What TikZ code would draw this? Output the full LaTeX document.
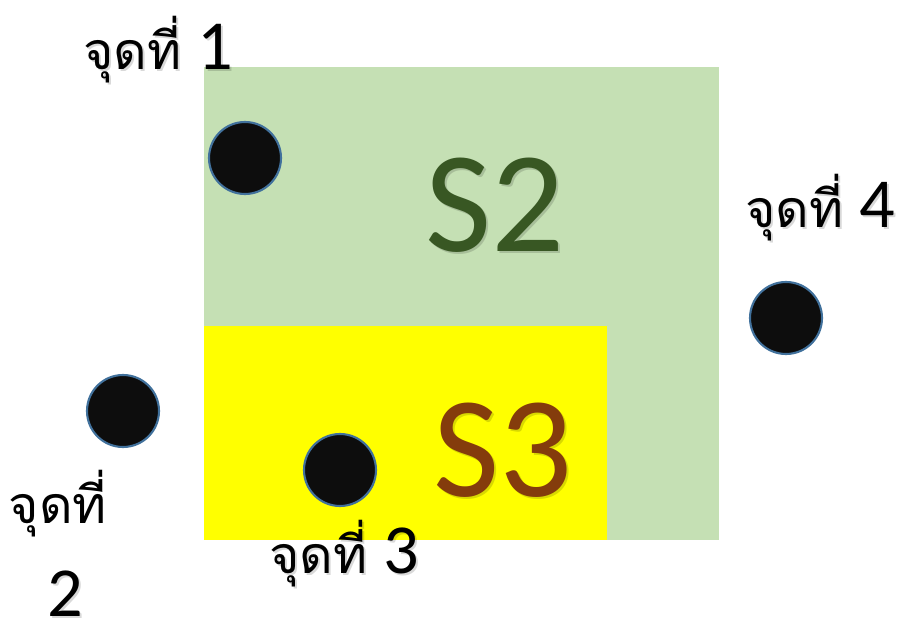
\documentclass[tikz,border=0pt]{standalone}
\usepackage{fontspec}
\setmainfont{Carlito}
\newfontfamily\thaifont[Script=Thai]{Loma}
\usetikzlibrary{positioning}
\definecolor{areagreen}{HTML}{C5E0B4}
\definecolor{areayellow}{HTML}{FFFF00}
\definecolor{textgreen}{HTML}{385723}
\definecolor{textbrown}{HTML}{843C0C}
\definecolor{dotblack}{HTML}{0D0D0D}
\definecolor{dotrim}{HTML}{41719C}
\newcommand{\thaiword}{{\thaifont\fontsize{29.5}{34}\selectfont จุดที่}}

\begin{document}
\begin{tikzpicture}[x=0.02cm, y=-0.02cm,
    dot/.style={circle, fill=dotblack, draw=dotrim, line width=1.2pt, minimum size=72*0.02cm, inner sep=0pt},
    lbl/.style={anchor=base, font=\fontsize{40}{44}\selectfont, inner sep=0pt},
    area/.style={anchor=base, font=\fontsize{82}{90}\selectfont, inner sep=0pt},
    shade/.style={text=black, opacity=0.15}]
    \useasboundingbox (0,0) rectangle (902,628);

    % regions
    \fill[areagreen] (204,67) rectangle (719,540);
    \fill[areayellow] (204,326) rectangle (607,540);

    % region names with soft shadow
    \node[area, shade] at (497,254) {S2};
    \node[area, text=textgreen] (s2) at (495,252) {S2};
    \node[area, shade] at (505,498) {S3};
    \node[area, text=textbrown] (s3) at (503,496) {S3};

    % points
    \node[dot] (p1) at (245,158) {};
    \node[dot] (p2) at (123,411) {};
    \node[dot] (p3) at (340,470) {};
    \node[dot] (p4) at (786,318) {};

    % point labels
    \node[lbl, shade] at (160,72) {\thaiword{} 1};
    \node[lbl] (l1) at (158,70) {\thaiword{} 1};
    \node[lbl] (l2a) at (58,523) {\thaiword};
    \node[lbl, shade] at (67,618) {2};
    \node[lbl] (l2b) at (65,616) {2};
    \node[lbl, shade] at (346,575) {\thaiword{} 3};
    \node[lbl] (l3) at (344,573) {\thaiword{} 3};
    \node[lbl, shade] at (822,230) {\thaiword{} 4};
    \node[lbl] (l4) at (820,228) {\thaiword{} 4};
\end{tikzpicture}
\end{document}
